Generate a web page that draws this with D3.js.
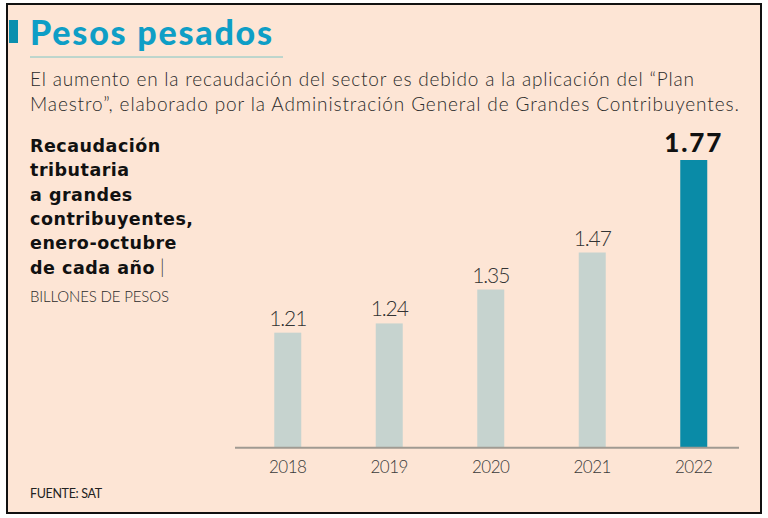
<!DOCTYPE html>
<html><head><meta charset="utf-8">
<script src="https://cdn.jsdelivr.net/npm/d3@7"></script>
<style>
html,body{margin:0;padding:0;background:#fff;}
svg{display:block;}
</style></head>
<body>
<svg id="chart" width="768" height="518"></svg>
<script>
const title = "Pesos pesados";
const subtitleLines = [
  "El aumento en la recaudación del sector es debido a la aplicación del “Plan",
  "Maestro”, elaborado por la Administración General de Grandes Contribuyentes."
];
const sideTitleLines = ["Recaudación", "tributaria", "a grandes", "contribuyentes,", "enero-octubre", "de cada año"];
const unitLabel = "BILLONES DE PESOS";
const source = "FUENTE: SAT";
const categories = ["2018", "2019", "2020", "2021", "2022"];
const values = [1.21, 1.24, 1.35, 1.47, 1.77];
const valueLabels = ["1.21", "1.24", "1.35", "1.47", "1.77"];
const highlight = "2022";

const svg = d3.select("#chart");
const LIGHT = "Lato, 'Open Sans', sans-serif";
const HEAVY = "'DejaVu Sans', Lato, sans-serif";

// widen/narrow text to a target width via letter-spacing (keeps glyph height)
function fitLS(sel, w) {
  const n = sel.node();
  const len = n.getComputedTextLength();
  const chars = sel.text().length;
  if (len > 0 && chars > 1) sel.attr("letter-spacing", ((w - len) / (chars - 1)).toFixed(2));
  return sel;
}

// background panel
svg.append("rect").attr("x", 7).attr("y", 4).attr("width", 754).attr("height", 509)
  .attr("fill", "#fde5d5").attr("stroke", "#111").attr("stroke-width", 2);

// title
svg.append("rect").attr("x", 9).attr("y", 20).attr("width", 9).attr("height", 23).attr("fill", "#0b8fae");
fitLS(svg.append("text").attr("x", 30).attr("y", 45).attr("font-family", "Lato, sans-serif")
  .attr("font-weight", 900).attr("font-size", 34).attr("fill", "#0e9ec6").text(title), 242);
svg.append("line").attr("x1", 30).attr("x2", 283).attr("y1", 57).attr("y2", 57)
  .attr("stroke", "#7fc6c4").attr("stroke-width", 1);

// subtitle
const subW = [664, 709];
subtitleLines.forEach((t, i) => {
  fitLS(svg.append("text").attr("x", 30).attr("y", 86 + i * 25).attr("font-family", LIGHT)
    .attr("font-weight", 300).attr("font-size", 19).attr("fill", "#2b2b2b").text(t), subW[i]);
});

// side title: one common size and spacing, driven by the widest line
const side = svg.append("g").attr("font-family", HEAVY).attr("font-weight", 700)
  .attr("font-size", 17.5).attr("fill", "#111");
const sideTexts = sideTitleLines.map((t, i) =>
  side.append("text").attr("x", 30).attr("y", 152 + i * 24.3).text(t));
const widest = sideTexts[3];
const ls = (163 - widest.node().getComputedTextLength()) / (sideTitleLines[3].length - 1);
side.attr("letter-spacing", ls.toFixed(2));
const lastW = sideTexts[5].node().getComputedTextLength();
svg.append("text").attr("x", 30 + lastW + 5).attr("y", 273.5).attr("font-family", LIGHT).attr("font-weight", 300)
  .attr("font-size", 19).attr("fill", "#333").text("|");
fitLS(svg.append("text").attr("x", 30).attr("y", 302).attr("font-family", LIGHT).attr("font-weight", 300)
  .attr("font-size", 15).attr("fill", "#2b2b2b").text(unitLabel), 139);

// source
fitLS(svg.append("text").attr("x", 30).attr("y", 498).attr("font-family", LIGHT).attr("font-weight", 400)
  .attr("font-size", 12.5).attr("fill", "#222").text(source), 72);

// scales
const x = d3.scaleBand().domain(categories).range([237, 744.5]).paddingInner(0.734).paddingOuter(0.367);
const y = d3.scaleLinear().domain([0.837, 1.77]).range([447.7, 160]);
const data = categories.map((c, i) => ({ c, v: values[i], l: valueLabels[i] }));

svg.append("g").selectAll("rect").data(data).join("rect")
  .attr("x", d => x(d.c)).attr("width", x.bandwidth())
  .attr("y", d => y(d.v)).attr("height", d => y.range()[0] - y(d.v))
  .attr("fill", d => d.c === highlight ? "#0a8ba7" : "#c6d3cf");

// axis
const axis = svg.append("g").attr("transform", `translate(0,${y.range()[0]})`)
  .call(d3.axisBottom(x).tickSize(0).tickPadding(13));
axis.select(".domain").attr("d", "M235,0H739").attr("stroke", "#a09a92").attr("stroke-width", 2);
axis.selectAll(".tick text").attr("font-family", LIGHT).attr("font-weight", 300)
  .attr("font-size", 17).attr("fill", "#3a3a3a")
  .each(function () { fitLS(d3.select(this), 38); });

// value labels
svg.append("g").selectAll("text").data(data).join("text")
  .attr("x", d => x(d.c) + x.bandwidth() / 2)
  .attr("y", d => y(d.v) - (d.c === highlight ? 8 : 7))
  .attr("text-anchor", "middle")
  .attr("font-family", d => d.c === highlight ? "Lato, sans-serif" : LIGHT)
  .attr("font-weight", d => d.c === highlight ? 900 : 300)
  .attr("font-size", d => d.c === highlight ? 26 : 21)
  .attr("fill", d => d.c === highlight ? "#111" : "#333")
  .text(d => d.l)
  .each(function (d) { fitLS(d3.select(this), d.c === highlight ? 57 : 38); });
</script>
</body></html>
